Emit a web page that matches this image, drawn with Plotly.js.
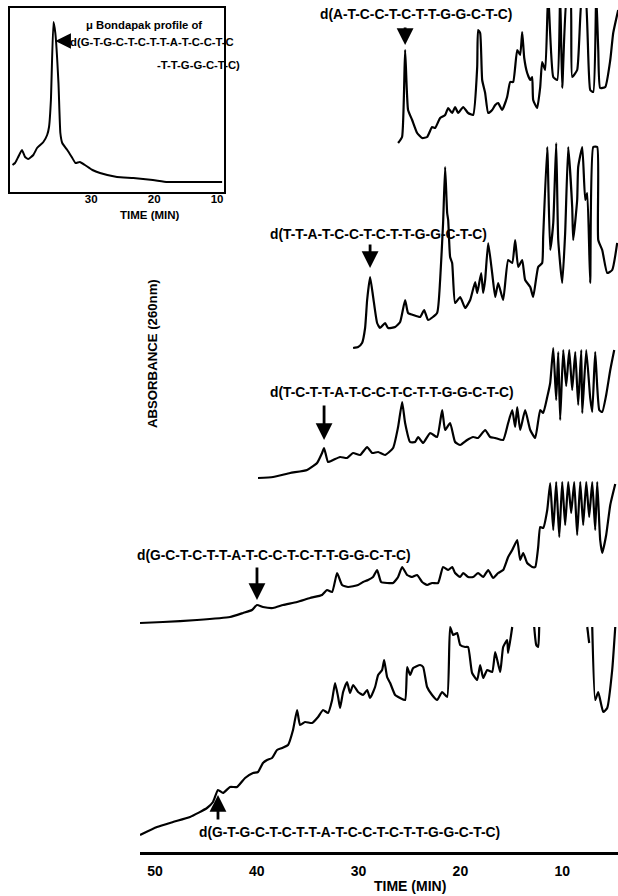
<!DOCTYPE html>
<html>
<head>
<meta charset="utf-8">
<script src="https://cdn.plot.ly/plotly-3.0.1.min.js"></script>
<style>html,body{margin:0;padding:0;background:#fff;}#chart{width:618px;height:896px;}</style>
</head>
<body>
<div id="chart"></div>
<script>
// ---------- DATA (time in min, absorbance in arbitrary units above each trace's own baseline) ----------
// Inset: muBondapak profile of the 21-mer
const tInset = [42.5,42.1,41.6,41.0,40.5,40.0,39.2,38.6,38.1,37.6,37.0,36.7,36.4,36.0,35.7,35.2,34.9,34.6,33.8,33.0,32.5,31.8,31.0,29.8,28.6,25.9,23.3,20.2,17.9,14.8,11.6,9.2];
const aInset = [27,29,35,42,35,33,37,44,47,50,57,65,92,170,159,109,59,49,42,34,29,30,27,22,19,15,14,12,10,10,10,10];

// Trace 1: d(A-T-C-C-T-C-T-T-G-G-C-T-C)
const t1 = [26.12,25.73,25.43,25.14,24.74,24.25,23.76,23.27,22.78,22.48,21.99,21.5,21.2,20.81,20.52,20.22,19.73,19.24,18.75,18.35,18.26,18.06,17.86,17.57,17.27,16.88,16.58,16.29,15.9,15.41,15.11,14.82,14.42,14.13,13.93,13.73,13.44,13.14,12.95,12.85,12.46,12.16,11.97,11.67,11.38,10.88,10.49,10.2,10.0,9.51,9.21,9.02,8.53,8.03,7.74,7.25,6.95,6.66,6.46,6.27,5.77,5.28,4.99,4.5];
const a1 = [0,6,93,33,23,10,5,6,16,15,25,28,35,30,36,30,36,30,28,76,113,110,63,50,30,33,38,40,33,46,61,61,93,88,111,85,70,63,66,43,35,56,81,73,150,66,63,150,55,150,150,66,73,150,150,53,51,150,93,55,56,83,110,133];

// Trace 2: d(T-T-A-T-C-C-T-C-T-T-G-G-C-T-C)
const t2 = [30.54,30.05,29.66,29.36,29.16,28.87,28.57,28.18,27.89,27.4,27.1,26.41,25.92,25.43,25.14,24.64,23.96,23.56,23.17,22.29,21.99,21.7,21.5,21.3,21.2,21.01,20.81,20.52,20.02,19.53,19.04,18.55,18.35,17.96,17.76,17.57,17.27,16.88,16.58,16.29,15.8,15.31,14.91,14.62,14.32,13.93,13.64,13.14,12.85,12.36,11.97,11.87,11.47,11.18,10.88,10.59,10.39,10.0,9.71,9.41,9.02,8.92,8.53,8.43,8.03,7.74,7.54,7.25,6.95,6.56,6.46,6.07,5.58,5.09,4.6];
const a2 = [0,1,5,20,48,71,51,25,20,25,20,21,26,48,35,33,31,38,28,35,68,125,181,135,128,91,85,45,51,40,48,66,55,75,55,68,105,75,51,65,48,88,85,108,81,88,68,61,51,81,85,111,201,98,125,205,108,65,115,201,141,108,148,181,201,148,155,65,201,201,108,98,75,78,105];

// Trace 3: d(T-C-T-T-A-T-C-C-T-C-T-T-G-G-C-T-C)
const t3 = [39.88,38.4,36.73,35.06,34.08,33.59,33.39,33.0,32.51,31.82,31.13,30.54,29.85,29.16,28.67,28.08,27.4,26.61,26.12,25.72,25.43,24.94,24.45,24.15,23.66,22.97,22.29,21.79,21.5,21.01,20.52,20.02,19.34,18.75,18.26,17.57,17.08,16.58,15.8,15.31,14.91,14.62,14.42,14.13,13.64,13.14,12.65,12.16,11.87,11.47,11.18,10.88,10.59,10.39,10.2,9.9,9.61,9.31,9.02,8.72,8.43,8.13,8.03,7.64,7.25,7.05,6.76,6.36,6.07,5.68,5.28,4.89];
const a3 = [0,1,5,8,15,25,30,16,18,21,20,25,23,31,25,26,23,30,51,76,55,36,36,41,35,45,41,68,48,55,36,33,38,41,40,48,41,40,38,55,68,51,71,48,68,48,40,68,65,81,95,130,78,126,58,128,92,128,88,126,73,128,65,128,80,66,126,68,66,83,108,128];

// Trace 4: d(G-C-T-C-T-T-A-T-C-C-T-C-T-T-G-G-C-T-C)
const t4 = [51.47,49.21,45.87,42.63,41.35,40.47,39.98,39.39,38.4,37.42,36.04,34.77,33.59,33.1,32.6,32.11,31.62,31.03,30.05,29.56,29.07,28.58,28.18,27.79,27.2,26.61,26.12,25.72,25.23,24.74,24.25,23.76,23.27,22.78,22.19,21.7,21.2,20.81,20.52,20.02,19.73,19.24,18.75,18.26,17.76,17.27,16.78,16.29,15.8,15.31,14.91,14.42,14.13,13.83,13.44,12.95,12.65,12.36,12.16,11.87,11.47,11.18,10.88,10.59,10.29,10.0,9.71,9.41,9.12,8.82,8.53,8.23,7.94,7.64,7.35,7.05,6.76,6.56,6.27,6.07,5.68,5.28,4.79];
const a4 = [0,1,3,6,10,13,18,16,15,18,21,25,28,33,31,50,38,36,38,41,43,46,53,41,40,40,46,56,48,46,48,41,38,40,40,56,53,56,50,46,50,46,46,50,46,53,45,50,53,66,73,83,63,70,60,56,56,76,96,95,113,140,93,141,86,141,98,141,110,141,88,141,98,141,106,141,93,141,83,70,88,118,139];

// Trace 5: d(G-T-G-C-T-C-T-T-A-T-C-C-T-C-T-T-G-G-C-T-C)  (null = pen off scale)
const t5 = [51.47,49.8,48.23,46.56,44.89,44.3,43.81,43.32,42.63,41.94,41.15,40.37,39.88,39.39,38.99,38.5,38.01,37.52,36.93,36.44,36.04,35.75,35.26,34.57,33.98,33.49,33.0,32.6,32.31,32.01,31.82,31.52,31.13,30.84,30.54,30.05,29.56,29.16,28.87,28.38,28.08,27.69,27.49,27.2,26.9,26.41,25.92,25.43,25.23,24.94,24.64,23.96,23.66,23.27,22.78,22.29,21.79,21.3,21.01,20.71,20.32,20.02,19.53,19.24,18.85,18.35,18.06,17.76,17.37,16.88,16.58,16.09,15.8,15.41,15.31,14.91,13.8,12.75,12.55,12.36,12.26,10.0,7.54,7.35,7.2,7.05,6.76,6.46,5.97,5.58,5.09,4.79];
const a5 = [0,8,13,18,27,33,45,42,48,48,57,62,63,72,75,77,85,87,90,105,125,110,113,112,118,125,122,135,152,138,127,143,153,142,150,143,140,145,137,148,160,165,175,158,152,140,137,135,168,160,167,170,168,148,140,135,143,138,208,200,202,190,188,188,162,155,170,157,165,163,183,163,188,195,182,208,null,208,190,188,208,null,208,192,null,208,135,143,123,127,165,208];

// retention times of the labelled products (arrows)
const productTimes = [25.43, 28.87, 33.39, 39.98, 43.81];
const labels = [
  'd(A-T-C-C-T-C-T-T-G-G-C-T-C)',
  'd(T-T-A-T-C-C-T-C-T-T-G-G-C-T-C)',
  'd(T-C-T-T-A-T-C-C-T-C-T-T-G-G-C-T-C)',
  'd(G-C-T-C-T-T-A-T-C-C-T-C-T-T-G-G-C-T-C)',
  'd(G-T-G-C-T-C-T-T-A-T-C-C-T-C-T-T-G-G-C-T-C)'
];
const mainTicks = [50, 40, 30, 20, 10];
const insetTicks = [30, 20, 10];

// ---------- LAYOUT / STYLE ----------
const FONT = 'Liberation Sans, Arial, Helvetica, sans-serif';
const W = 618, H = 896;
const offsets = [709, 504, 374, 229, 17];           // vertical stacking of traces (plot units)
const series = [[t1,a1],[t2,a2],[t3,a3],[t4,a4],[t5,a5]];
const B = s => '<b>' + s + '</b>';

const data = series.map(([t,a],i) => ({
  type:'scatter', mode:'lines', x:t,
  y:a.map(v => v === null ? null : v + offsets[i]),
  line:{color:'#000', width:2.2, shape:'spline', smoothing:0.45},
  connectgaps:false, hoverinfo:'skip', xaxis:'x', yaxis:'y'
}));
data.push({type:'scatter', mode:'lines', x:tInset, y:aInset,
  line:{color:'#000', width:2, shape:'spline', smoothing:0.4}, xaxis:'x2', yaxis:'y2', hoverinfo:'skip'});

function heightAt(t, a, tt){
  let best=0, d=1e9;
  t.forEach((v,k)=>{ if(a[k]!==null && Math.abs(v-tt)<d){d=Math.abs(v-tt);best=k;} });
  return a[best];
}

const ann = [];
const px = (x)=>x/W, py = (y)=>1-y/H;
const labelPos = [[318,14],[268,234],[268,392],[135,555],[197,832]];
labels.forEach((s,i)=>{
  ann.push({xref:'paper', yref:'paper', x:px(labelPos[i][0]), y:py(labelPos[i][1]),
    xanchor:'left', yanchor:'middle', text:B(s), showarrow:false,
    font:{family:FONT, size:13.8, color:'#000'}});
});
// arrows to the product peaks
const arrowGap = [5, 9, 8, 5, -5];
const arrowLen = [19, 25, 36, 34, -26];
productTimes.forEach((tp,i)=>{
  const [t,a] = series[i];
  const h = heightAt(t,a,tp) + offsets[i];
  ann.push({xref:'x', yref:'y', x:tp, y:h + arrowGap[i], ax:0, ay:-arrowLen[i],
    text:'', showarrow:true, arrowhead:2, arrowsize:1.2, arrowwidth:2.8, arrowcolor:'#000'});
});
// inset arrow
ann.push({xref:'x2', yref:'y2', x:35.7, y:151, ax:15, ay:0, text:'', showarrow:true,
  arrowhead:2, arrowsize:1.2, arrowwidth:2.6, arrowcolor:'#000'});
// inset texts
const insetFont = {family:FONT,size:11.3,color:'#000'};
ann.push({xref:'paper', yref:'paper', x:px(84), y:py(25), xanchor:'left', yanchor:'middle',
  text:B('\u03bc Bondapak profile of'), showarrow:false, font:insetFont});
ann.push({xref:'paper', yref:'paper', x:px(68), y:py(42), xanchor:'left', yanchor:'middle',
  text:B('d(G-T-G-C-T-C-T-T-A-T-C-C-T-C'), showarrow:false, font:insetFont});
ann.push({xref:'paper', yref:'paper', x:px(155), y:py(65), xanchor:'left', yanchor:'middle',
  text:B('-T-T-G-G-C-T-C)'), showarrow:false, font:insetFont});
ann.push({xref:'paper', yref:'paper', x:px(150), y:py(215), xanchor:'center', yanchor:'middle',
  text:B('TIME (MIN)'), showarrow:false, font:{family:FONT,size:11.5,color:'#000'}});
// main axis title and y label
ann.push({xref:'paper', yref:'paper', x:px(410), y:py(886), xanchor:'center', yanchor:'middle',
  text:B('TIME (MIN)'), showarrow:false, font:{family:FONT,size:14,color:'#000'}});
ann.push({xref:'paper', yref:'paper', x:px(152), y:py(354), xanchor:'center', yanchor:'middle',
  text:B('ABSORBANCE (260nm)'), textangle:-90, showarrow:false, font:{family:FONT,size:13.2,color:'#000'}});

const layout = {
  width:W, height:H, margin:{l:0,r:0,t:0,b:0}, paper_bgcolor:'#fff', plot_bgcolor:'rgba(0,0,0,0)',
  showlegend:false, font:{family:FONT, color:'#000'},
  xaxis:{domain:[140/W,1], range:[51.47,4.52], anchor:'y', showline:true, linewidth:3, linecolor:'#000',
    showgrid:false, zeroline:false, tickvals:mainTicks, ticktext:mainTicks.map(v=>B(v)), ticks:'', ticklabelstandoff:4,
    tickfont:{family:FONT,size:14,color:'#000'}},
  yaxis:{domain:[44/H, 888/H], range:[0,844], visible:false, fixedrange:true},
  xaxis2:{domain:[10/W,224/W], range:[42.9,8.9], anchor:'y2', showline:true, mirror:true, linewidth:2,
    linecolor:'#000', showgrid:false, zeroline:false, tickvals:insetTicks, ticktext:insetTicks.map(v=>B(v)),
    ticks:'', ticklabelstandoff:-5, tickfont:{family:FONT,size:11.5,color:'#000'}},
  yaxis2:{domain:[(H-192)/H,(H-8)/H], range:[0,184], anchor:'x2', showline:true, mirror:true, linewidth:2,
    linecolor:'#000', showgrid:false, zeroline:false, ticks:'', showticklabels:false},
  annotations:ann
};
Plotly.newPlot('chart', data, layout, {staticPlot:true, displayModeBar:false});
</script>
</body>
</html>
